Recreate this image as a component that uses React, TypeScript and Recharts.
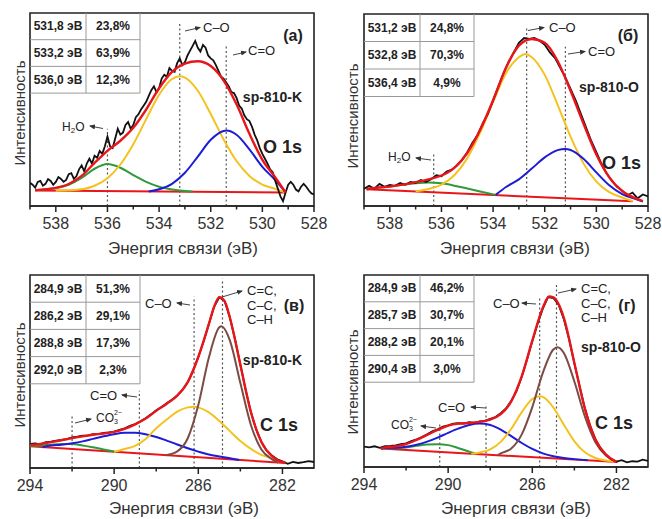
import React from "react";
import { LineChart, Line, XAxis, YAxis, ReferenceLine, ReferenceArea } from "recharts";

type Pt = [number, number];

const FONT = '"Liberation Sans", Arial, sans-serif';
const RED = "#e8161b";
const BLACK = "#111111";
const YELLOW = "#f4c21f";
const BLUE = "#1c1cd6";
const GREEN = "#2f9a3a";
const BROWN = "#7b4b44";

// ---------- (а) O 1s, sp-810-K ----------
const aExperiment: Pt[] = [
  [539.0, 12], [538.9, 11], [538.8, 9.5], [538.7, 12.5], [538.6, 13], [538.5, 10.5], [538.4, 11.5], [538.3, 14],
  [538.2, 13], [538.1, 11], [538.0, 12.5], [537.9, 15], [537.8, 14], [537.7, 12.5], [537.6, 13.5], [537.5, 16.5],
  [537.4, 17], [537.3, 14], [537.2, 15.5], [537.1, 19], [537.0, 21], [536.9, 18], [536.8, 22], [536.7, 24.5],
  [536.6, 22], [536.5, 26], [536.4, 25], [536.3, 28.5], [536.2, 27], [536.1, 31], [536.0, 36], [535.9, 31],
  [535.8, 30], [535.7, 35], [535.6, 40], [535.5, 37], [535.4, 38], [535.3, 42], [535.2, 43.5], [535.1, 40],
  [535.0, 42], [534.9, 46], [534.8, 47.5], [534.7, 50], [534.6, 52], [534.5, 54], [534.4, 57], [534.3, 60],
  [534.2, 62], [534.1, 59], [534.0, 61], [533.9, 66], [533.8, 68], [533.7, 67], [533.6, 71.5], [533.5, 70],
  [533.4, 69.5], [533.3, 74], [533.2, 76.5], [533.1, 73], [533.0, 74.5], [532.9, 78], [532.8, 80.5], [532.7, 83],
  [532.6, 85.5], [532.5, 82], [532.4, 80], [532.3, 83.5], [532.2, 82], [532.1, 78], [532.0, 76.5], [531.9, 75.5],
  [531.8, 73], [531.7, 70], [531.6, 67], [531.5, 66], [531.4, 64], [531.3, 62], [531.2, 59], [531.1, 58.5],
  [531.0, 56], [530.9, 52], [530.8, 50.5], [530.7, 47], [530.6, 45], [530.5, 44], [530.4, 41], [530.3, 37],
  [530.2, 34], [530.1, 30], [530.0, 27], [529.9, 24.5], [529.8, 22], [529.7, 19], [529.6, 17.5], [529.5, 13],
  [529.4, 9], [529.3, 5], [529.2, 2.5], [529.1, 7], [529.0, 11], [528.9, 12.5], [528.8, 11], [528.7, 8.5],
  [528.6, 7.5], [528.5, 10], [528.4, 11.5], [528.3, 10], [528.2, 8], [528.1, 6.5], [528.0, 6],
];
const aEnvelope: Pt[] = [
  [538.8, 8.2], [538.5, 8.5], [538, 9.4], [537.5, 11.4], [537, 15.6], [536.5, 22.3], [536, 28.6],
  [535.5, 33.8], [535, 40.5], [534.5, 50], [534, 61], [533.5, 69.5], [533, 73.8], [532.5, 75],
  [532, 72.5], [531.5, 65], [531, 52.7], [530.5, 37.4], [530, 23.9], [529.5, 14.8], [529.1, 7.0],
];
const aBackground: Pt[] = [[538.8, 8.0], [529.1, 7.0]];
const aH2O: Pt[] = [
  [538.8, 8.2], [538.5, 8.5], [538, 9.3], [537.5, 11.0], [537, 14.5], [536.5, 19.3], [536, 21.7],
  [535.5, 19.8], [535, 16.0], [534.5, 12.5], [534, 10.0], [533.5, 8.6], [533, 7.8], [532.7, 7.5],
];
const aCO: Pt[] = [
  [538, 7.9], [537.5, 8.1], [537, 8.7], [536.5, 10.5], [536, 14.4], [535.5, 21.5], [535, 32], [534.5, 45],
  [534, 57.6], [533.5, 65.8], [533.2, 67.2], [533, 66.5], [532.5, 59.7], [532, 47.7], [531.5, 34.5],
  [531, 23.3], [530.5, 15.6], [530, 11.1], [529.5, 8.9], [529.1, 7.0],
];
const aCdO: Pt[] = [
  [534.4, 7.5], [534, 8.7], [533.5, 11.5], [533, 17.2], [532.5, 25.6], [532, 34.3], [531.5, 38.9],
  [531.4, 39.1], [531, 36.9], [530.5, 29.3], [530, 20.3], [529.5, 13.4], [529.1, 7.0],
];
const aMarks: Pt[] = [[536.0, 40], [533.2, 95.6], [531.4, 82.6]];
const aTable = [["531,8 эВ", "23,8%"], ["533,2 эВ", "63,9%"], ["536,0 эВ", "12,3%"]];

// ---------- (б) O 1s, sp-810-O ----------
const bExperiment: Pt[] = [
  [539.0, 9], [538.8, 10.5], [538.6, 9], [538.4, 11.5], [538.2, 10], [538.0, 11], [537.8, 10.5], [537.6, 12],
  [537.4, 11], [537.2, 12.5], [537.0, 12], [536.8, 13.5], [536.6, 12.5], [536.4, 14], [536.2, 16], [536.0, 15.5],
  [535.8, 18], [535.6, 19], [535.4, 21], [535.2, 24], [535.0, 28], [534.8, 33], [534.6, 37], [534.4, 43],
  [534.2, 48], [534.0, 55], [533.8, 62], [533.6, 69], [533.4, 75], [533.2, 80], [533.0, 85], [532.8, 87.5],
  [532.6, 87], [532.4, 87.5], [532.2, 86], [532.0, 84], [531.8, 80], [531.6, 77], [531.4, 72], [531.2, 67],
  [531.0, 61], [530.8, 55], [530.6, 48], [530.4, 41], [530.2, 34], [530.0, 28], [529.8, 22], [529.6, 17],
  [529.4, 13], [529.2, 10], [529.0, 8], [528.8, 5.5], [528.6, 7], [528.4, 4], [528.2, 6], [528.0, 5],
];
const bEnvelope: Pt[] = [
  [538.9, 8.7], [538.5, 9.5], [538, 10.1], [537.5, 11.1], [537, 12.4], [536.5, 13.9], [536, 15.9],
  [535.5, 19.9], [535, 27.6], [534.5, 39.7], [534, 55.1], [533.5, 72], [533, 83.5], [532.5, 87],
  [532, 85], [531.5, 75.5], [531, 60], [530.5, 43], [530, 26.8], [529.5, 14.9], [529, 7.8],
  [528.5, 4.1], [528.2, 2.5],
];
const bBackground: Pt[] = [[538.9, 8.7], [528.6, 2.5]];
const bH2O: Pt[] = [
  [538.9, 8.7], [538.5, 9.5], [538, 10.1], [537.5, 11.1], [537, 11.9], [536.5, 12.3], [536, 11.8],
  [535.5, 10.6], [535, 9.1], [534.5, 7.6], [533.9, 5.8],
];
const bCO: Pt[] = [
  [537, 7.7], [536.5, 8.9], [536, 11.1], [535.5, 16], [535, 24.9], [534.5, 38.2], [534, 54.2],
  [533.5, 69.2], [533, 77.5], [532.75, 79.2], [532.5, 77.5], [532, 68.3], [531.5, 52.7], [531, 36.1],
  [530.5, 22.2], [530, 12.7], [529.5, 7.2], [529, 4.4], [528.6, 2.6],
];
const bCdO: Pt[] = [
  [533.9, 5.8], [533.5, 9.9], [533, 13.9], [532.5, 19.5], [532, 25.3], [531.5, 29.1], [531.2, 29.7],
  [531, 29.2], [530.5, 24.6], [530, 17.5], [529.5, 10.8], [529, 6.2], [528.5, 3.7], [528.2, 2.3],
];
const bMarks: Pt[] = [[536.3, 27], [532.7, 93], [531.2, 83]];
const bTable = [["531,2 эВ", "24,8%"], ["532,8 эВ", "70,3%"], ["536,4 эВ", "4,9%"]];

// ---------- (в) C 1s, sp-810-K ----------
const cExperiment: Pt[] = [
  [294, 12.5], [293.75, 12.8], [293.5, 12.3], [293.25, 13.4], [293, 13.6], [292.75, 14.2], [292.5, 14.6],
  [292.25, 15.0], [292, 15.8], [291.75, 16.2], [291.5, 16.7], [291.25, 16.9], [291, 17.5], [290.75, 17.6],
  [290.5, 18.2], [290.25, 18.4], [290, 18.9], [289.75, 19.8], [289.5, 20.6], [289.25, 21.8], [289, 22.8],
  [288.75, 24.2], [288.5, 25.8], [288.25, 27.8], [288, 29.9], [287.75, 31.6], [287.5, 33.5], [287.25, 35.4],
  [287, 37.6], [286.75, 40.4], [286.5, 44.5], [286.25, 50.5], [286, 57.5], [285.75, 65.5], [285.5, 74.5],
  [285.25, 83.5], [285, 88.5], [284.75, 86.5], [284.5, 78], [284.25, 66.5], [284, 53.5], [283.75, 40.5],
  [283.5, 29], [283.25, 20], [283, 13.5], [282.75, 9], [282.5, 6.5], [282.25, 4.5], [282, 3.5],
  [281.75, 2.2], [281.5, 3.2], [281.25, 2.6], [281, 3.0], [280.75, 3.6], [280.5, 3.1],
];
const cEnvelope: Pt[] = [
  [294, 12], [293.5, 12.5], [293, 13.4], [292.5, 14.4], [292, 15.5], [291.5, 16.4], [291, 17.2],
  [290.5, 17.9], [290, 18.7], [289.5, 20.3], [289, 22.6], [288.5, 25.6], [288, 29.6], [287.5, 33.3],
  [287, 37.5], [286.5, 44.5], [286, 57.5], [285.5, 74.5], [285.25, 83.5], [285, 88.5], [284.75, 86.5],
  [284.5, 78], [284, 53.5], [283.5, 29], [283, 13.5], [282.5, 6.2], [282, 3.0], [281.85, 2.6],
];
const cBackground: Pt[] = [[294, 11.3], [281.85, 2.6]];
const cCO3: Pt[] = [
  [294, 11.5], [293.5, 11.7], [293, 12.1], [292.5, 12.4], [292, 12.4], [291.5, 11.7], [291, 10.7],
  [290.5, 9.6], [290, 8.5],
];
const cCdO: Pt[] = [
  [293.4, 10.8], [293, 11.7], [292.5, 12.0], [292, 12.8], [291.5, 13.8], [291, 15.1], [290.5, 16.4],
  [290, 17.5], [289.5, 18.2], [289, 18.3], [288.5, 17.5], [288, 16.1], [287.5, 14.2], [287, 12.2],
  [286.5, 10.2], [286, 8.5], [285.5, 7.0], [285, 6.0], [284.5, 5.1], [284.05, 4.1],
];
const cCO: Pt[] = [
  [290, 8.4], [289.5, 9.8], [289, 11.5], [288.5, 15.0], [288, 20.6], [287.5, 25.1], [287, 29.2],
  [286.5, 31.4], [286.2, 31.8], [286, 31.4], [285.5, 28.8], [285, 24.4], [284.5, 19.1], [284, 14.0],
  [283.5, 9.9], [283, 6.8], [282.5, 4.8], [282.2, 2.8],
];
const cCC: Pt[] = [
  [287.55, 6.6], [287, 8.6], [286.5, 15.4], [286, 32.6], [285.5, 57.1], [285, 72.9], [284.9, 73.4],
  [284.5, 66.1], [284, 44.0], [283.5, 22.3], [283, 9.6], [282.5, 4.6], [282.2, 2.8],
];
const cMarks: Pt[] = [[292.0, 27], [288.8, 40], [286.2, 88.7], [284.85, 98]];
const cTable = [["284,9 эВ", "51,3%"], ["286,2 эВ", "29,1%"], ["288,8 эВ", "17,3%"], ["292,0 эВ", "2,3%"]];

// ---------- (г) C 1s, sp-810-O ----------
const dExperiment: Pt[] = [
  [294, 10.6], [293.75, 10.2], [293.5, 10.8], [293.25, 10.0], [293, 10.9], [292.75, 11.0], [292.5, 11.3],
  [292.25, 11.9], [292, 12.3], [291.75, 13.5], [291.5, 14.4], [291.25, 15.6], [291, 17.0], [290.75, 18.6],
  [290.5, 19.6], [290.25, 21.0], [290, 21.7], [289.75, 22.6], [289.5, 22.9], [289.25, 22.6], [289, 23.3],
  [288.75, 23.0], [288.5, 23.7], [288.25, 24.0], [288, 25.1], [287.75, 26.0], [287.5, 28.0], [287.25, 30.5],
  [287, 34.5], [286.75, 39.5], [286.5, 47.0], [286.25, 56.0], [286, 65.5], [285.75, 74.5], [285.5, 82.5],
  [285.25, 88.5], [285, 88.0], [284.75, 84.5], [284.5, 77.0], [284.25, 66.5], [284, 54.0], [283.75, 42.0],
  [283.5, 30.5], [283.25, 21.5], [283, 14.5], [282.75, 9.5], [282.5, 6.5], [282.25, 4.0], [282, 2.8],
  [281.75, 3.6], [281.5, 2.4], [281.25, 3.0], [281, 2.8], [280.75, 3.8], [280.5, 3.2],
];
const dEnvelope: Pt[] = [
  [293.2, 9.6], [293, 10.2], [292.5, 10.75], [292, 11.9], [291.5, 14.1], [291, 16.7], [290.5, 19.3],
  [290, 21.6], [289.5, 22.6], [289, 22.9], [288.5, 23.5], [288, 24.7], [287.5, 27.5], [287, 34.2],
  [286.5, 47.3], [286, 65.8], [285.5, 83.0], [285.2, 88.8], [285, 88.3], [284.5, 77.7], [284, 54.2],
  [283.5, 30.4], [283, 14.3], [282.5, 6.45], [282, 2.65],
];
const dBackground: Pt[] = [[293.2, 9.6], [281.94, 2.6]];
const dCO3: Pt[] = [
  [293.2, 9.6], [293, 9.8], [292.5, 9.85], [292, 10.2], [291.5, 11.0], [291, 11.7], [290.5, 11.9],
  [290, 11.4], [289.5, 9.8], [289, 8.0], [288.7, 6.9],
];
const dCdO: Pt[] = [
  [293.2, 9.6], [293, 9.9], [292.5, 10.05], [292, 10.5], [291.5, 11.6], [291, 13.2], [290.5, 15.3],
  [290, 17.8], [289.5, 20.1], [289, 21.9], [288.5, 22.6], [288, 21.9], [287.5, 19.5], [287, 16.1],
  [286.5, 12.5], [286, 9.4], [285.5, 7.1], [285, 5.6], [284.5, 4.7], [284, 4.1], [283.37, 3.5],
];
const dCO: Pt[] = [
  [288.9, 6.9], [288.5, 7.6], [288, 9.2], [287.5, 13.1], [287, 19.9], [286.5, 28.6], [286, 35.4],
  [285.65, 36.9], [285.5, 36.5], [285, 31.0], [284.5, 22.0], [284, 13.4], [283.5, 7.7], [283, 4.7],
  [282.5, 3.35], [282.1, 2.7],
];
const dCC: Pt[] = [
  [287.64, 6.1], [287.5, 7.05], [287, 9.6], [286.5, 17.0], [286, 31.2], [285.5, 49.0], [285, 61.2],
  [284.8, 62.4], [284.5, 59.4], [284, 44.5], [283.5, 26.3], [283, 12.9], [282.5, 6.0], [282, 2.7],
];
const dMarks: Pt[] = [[290.4, 23.5], [288.2, 33], [285.65, 87.8], [284.85, 94.8]];
const dTable = [["284,9 эВ", "46,2%"], ["285,7 эВ", "30,7%"], ["288,2 эВ", "20,1%"], ["290,4 эВ", "3,0%"]];

const oTicks = [528, 529, 530, 531, 532, 533, 534, 535, 536, 537, 538, 539];
const oMajors = [528, 530, 532, 534, 536, 538];
const cTicks = [282, 284, 286, 288, 290, 292, 294];
const cMajors = [282, 286, 290, 294];

const pts = (arr: Pt[]) => arr.map(([e, v]) => ({ e, v }));

const renderTick = (props: any, majors: number[]) => {
  const { x, y, payload } = props;
  const axisY = y - 12;
  const major = majors.includes(payload.value);
  return (
    <g>
      <line x1={x} x2={x} y1={axisY} y2={axisY + (major ? 6 : 3.5)} stroke="#222" strokeWidth={1.5} />
      {major && (
        <text x={x} y={y} dy="0.71em" textAnchor="middle" fontSize={16} fill="#333" fontFamily={FONT}>
          {payload.value}
        </text>
      )}
    </g>
  );
};

const Arrow = ({ x1, y1, x2, y2, id }: any) => (
  <line x1={x1} y1={y1} x2={x2} y2={y2} stroke="#444" strokeWidth={1} markerEnd={`url(#${id})`} />
);

const Label = ({ x, y, children, anchor = "start", size = 13, bold = false }: any) => (
  <text x={x} y={y} fontSize={size} fontWeight={bold ? "bold" : "normal"} textAnchor={anchor}
    dominantBaseline="central" fill="#222">{children}</text>
);

const Table = ({ rows, x, y, rh }: any) => {
  const w = 110;
  const c = 56;
  return (
    <g>
      {rows.map((r: string[], i: number) => (
        <g key={i}>
          <line x1={x} x2={x + w} y1={y + (i + 1) * rh} y2={y + (i + 1) * rh} stroke="#999" strokeWidth={1} />
          <text x={x + c / 2} y={y + i * rh + rh / 2} textAnchor="middle" dominantBaseline="central"
            fontSize={12} fontWeight="bold" fill="#222">{r[0]}</text>
          <text x={x + c + (w - c) / 2} y={y + i * rh + rh / 2} textAnchor="middle" dominantBaseline="central"
            fontSize={12} fontWeight="bold" fill="#222">{r[1]}</text>
        </g>
      ))}
      <line x1={x + c} x2={x + c} y1={y} y2={y + rows.length * rh} stroke="#999" strokeWidth={1} />
      <line x1={x + w} x2={x + w} y1={y} y2={y + rows.length * rh} stroke="#999" strokeWidth={1} />
    </g>
  );
};

const H2O = ({ x, y }: any) => (
  <text x={x} y={y} fontSize={12} dominantBaseline="central" fill="#222">
    H<tspan fontSize={8} dy={3}>2</tspan><tspan dy={-3}>O</tspan>
  </text>
);

const CO3 = ({ x, y }: any) => (
  <text x={x} y={y} fontSize={12} dominantBaseline="central" fill="#222">
    CO<tspan fontSize={7} dy={3}>3</tspan><tspan fontSize={7} dx={-4} dy={-9}>2−</tspan>
  </text>
);

const panels = [
  {
    id: "a", left: 0, top: 0, margin: { top: 13, right: 17, left: 30, bottom: 24 },
    domain: [528, 539], ticks: oTicks, majors: oMajors,
    exp: aExperiment, env: aEnvelope, base: aBackground,
    comps: [{ d: aH2O, c: GREEN }, { d: aCO, c: YELLOW }, { d: aCdO, c: BLUE }],
    marks: aMarks, table: aTable, tx: 30, ty: 13, rh: 26.7, yTitle: [19, 113], xTitle: [183, 248],
    notes: (id: string) => (
      <g>
        <Arrow id={id} x1={185} y1={31} x2={200} y2={27.5} />
        <Label x={203} y={27}>C–O</Label>
        <Arrow id={id} x1={233} y1={55} x2={246} y2={52} />
        <Label x={248} y={50}>C=O</Label>
        <Arrow id={id} x1={103} y1={128.5} x2={90} y2={126} />
        <H2O x={62} y={127} />
        <Label x={293} y={35} anchor="middle" size={16} bold>(а)</Label>
        <Label x={302} y={97} anchor="end" size={14} bold>sp-810-K</Label>
        <Label x={302} y={147} anchor="end" size={18} bold>O 1s</Label>
      </g>
    ),
  },
  {
    id: "b", left: 331, top: 0, margin: { top: 14, right: 14, left: 33, bottom: 24 },
    domain: [528, 539], ticks: oTicks, majors: oMajors,
    exp: bExperiment, env: bEnvelope, base: bBackground,
    comps: [{ d: bH2O, c: GREEN }, { d: bCO, c: YELLOW }, { d: bCdO, c: BLUE }],
    marks: bMarks, table: bTable, tx: 33, ty: 14, rh: 27.5, yTitle: [21, 116], xTitle: [184, 248],
    notes: (id: string) => (
      <g>
        <Arrow id={id} x1={197} y1={30.5} x2={213} y2={27.5} />
        <Label x={218} y={27}>C–O</Label>
        <Arrow id={id} x1={237} y1={54} x2={254} y2={51.5} />
        <Label x={257} y={51}>C=O</Label>
        <Arrow id={id} x1={100} y1={160} x2={85} y2={158} />
        <H2O x={57} y={157} />
        <Label x={297} y={35} anchor="middle" size={16} bold>(б)</Label>
        <Label x={308} y={87} anchor="end" size={14} bold>sp-810-O</Label>
        <Label x={310} y={163} anchor="end" size={18} bold>O 1s</Label>
      </g>
    ),
  },
  {
    id: "c", left: 0, top: 260, margin: { top: 15, right: 17, left: 30, bottom: 22 },
    domain: [280.5, 294], ticks: cTicks, majors: cMajors,
    exp: cExperiment, env: cEnvelope, base: cBackground,
    comps: [{ d: cCO3, c: GREEN }, { d: cCdO, c: BLUE }, { d: cCO, c: YELLOW }, { d: cCC, c: BROWN }],
    marks: cMarks, table: cTable, tx: 30, ty: 15, rh: 27.2, yTitle: [19, 115], xTitle: [184, 248],
    notes: (id: string) => (
      <g>
        <Arrow id={id} x1={222} y1={37} x2={242} y2={31} />
        <Label x={247} y={30}>C=C,</Label>
        <Label x={247} y={45}>C–C,</Label>
        <Label x={247} y={59}>C–H</Label>
        <Arrow id={id} x1={190} y1={45} x2={177} y2={43} />
        <Label x={145} y={43}>C–O</Label>
        <Arrow id={id} x1={137} y1={137} x2={122} y2={135} />
        <Label x={90} y={135}>C=O</Label>
        <Arrow id={id} x1={75} y1={163} x2={91} y2={159} />
        <CO3 x={96} y={158} />
        <Label x={294} y={45} anchor="middle" size={16} bold>(в)</Label>
        <Label x={302} y={100} anchor="end" size={14} bold>sp-810-K</Label>
        <Label x={298} y={165} anchor="end" size={18} bold>C 1s</Label>
      </g>
    ),
  },
  {
    id: "d", left: 331, top: 260, margin: { top: 15, right: 14, left: 33, bottom: 23 },
    domain: [280.5, 294], ticks: cTicks, majors: cMajors,
    exp: dExperiment, env: dEnvelope, base: dBackground,
    comps: [{ d: dCO3, c: GREEN }, { d: dCdO, c: BLUE }, { d: dCO, c: YELLOW }, { d: dCC, c: BROWN }],
    marks: dMarks, table: dTable, tx: 33, ty: 15, rh: 26.8, yTitle: [21, 122], xTitle: [185, 248],
    notes: (id: string) => (
      <g>
        <Arrow id={id} x1={227} y1={33} x2={245} y2={29} />
        <Label x={250} y={28}>C=C,</Label>
        <Label x={250} y={43}>C–C,</Label>
        <Label x={250} y={57}>C–H</Label>
        <Arrow id={id} x1={205} y1={44} x2={191} y2={43} />
        <Label x={162} y={43}>C–O</Label>
        <Arrow id={id} x1={155} y1={148} x2={140} y2={147} />
        <Label x={107} y={147}>C=O</Label>
        <Arrow id={id} x1={105} y1={168} x2={90} y2={166} />
        <CO3 x={60} y={165} />
        <Label x={296} y={45} anchor="middle" size={16} bold>(г)</Label>
        <Label x={310} y={87} anchor="end" size={14} bold>sp-810-O</Label>
        <Label x={302} y={163} anchor="end" size={18} bold>C 1s</Label>
      </g>
    ),
  },
];

const Panel = ({ p }: any) => {
  const markerId = `arrow-${p.id}`;
  return (
    <div style={{ position: "absolute", left: p.left, top: p.top, width: 331, height: 260 }}>
      <LineChart width={331} height={260} margin={p.margin}>
        <XAxis
          type="number"
          dataKey="e"
          domain={p.domain}
          reversed
          allowDataOverflow
          ticks={p.ticks}
          interval={0}
          tickLine={false}
          tickSize={6}
          tickMargin={6}
          height={30}
          axisLine={{ stroke: "#222", strokeWidth: 1.6 }}
          tick={(t: any) => renderTick(t, p.majors)}
        />
        <YAxis type="number" domain={[0, 100]} hide allowDataOverflow />
        <ReferenceArea x1={p.domain[0]} x2={p.domain[1]} y1={0} y2={100} fill="none"
          stroke="#222" strokeWidth={1.6} ifOverflow="visible" />
        {p.marks.map(([e, top]: Pt) => (
          <ReferenceLine key={e} segment={[{ x: e, y: 0 }, { x: e, y: top }]} stroke="#555"
            strokeDasharray="2 2.5" strokeWidth={1.2} ifOverflow="visible" />
        ))}
        <Line data={pts(p.base)} dataKey="v" type="linear" stroke={RED} strokeWidth={2}
          dot={false} isAnimationActive={false} />
        {p.comps.map((c: any, i: number) => (
          <Line key={i} data={pts(c.d)} dataKey="v" type="monotone" stroke={c.c} strokeWidth={2}
            dot={false} isAnimationActive={false} />
        ))}
        <Line data={pts(p.exp)} dataKey="v" type="linear" stroke={BLACK} strokeWidth={1.8}
          dot={false} isAnimationActive={false} />
        <Line data={pts(p.env)} dataKey="v" type="monotone" stroke={RED} strokeWidth={2.4}
          dot={false} isAnimationActive={false} />
      </LineChart>
      <svg width={331} height={260} fontFamily={FONT}
        style={{ position: "absolute", left: 0, top: 0, pointerEvents: "none", overflow: "visible" }}>
        <defs>
          <marker id={markerId} markerWidth="6" markerHeight="6" refX="5" refY="3" orient="auto">
            <path d="M0,0.5 L6,3 L0,5.5 z" fill="#333" />
          </marker>
        </defs>
        <Table rows={p.table} x={p.tx} y={p.ty} rh={p.rh} />
        {p.notes(markerId)}
        <text x={p.yTitle[0]} y={p.yTitle[1]} fontSize={15} fill="#333" textAnchor="middle"
          dominantBaseline="central" transform={`rotate(-90 ${p.yTitle[0]} ${p.yTitle[1]})`}>
          Интенсивность
        </text>
        <text x={p.xTitle[0]} y={p.xTitle[1]} fontSize={17} fill="#333" textAnchor="middle"
          dominantBaseline="central">
          Энергия связи (эВ)
        </text>
      </svg>
    </div>
  );
}

export default function App() {
  return (
    <div style={{ position: "absolute", left: 0, top: 0, width: 662, height: 519, background: "#fff", fontFamily: FONT }}>
      {panels.map((p) => (
        <Panel key={p.id} p={p} />
      ))}
    </div>
  );
}
